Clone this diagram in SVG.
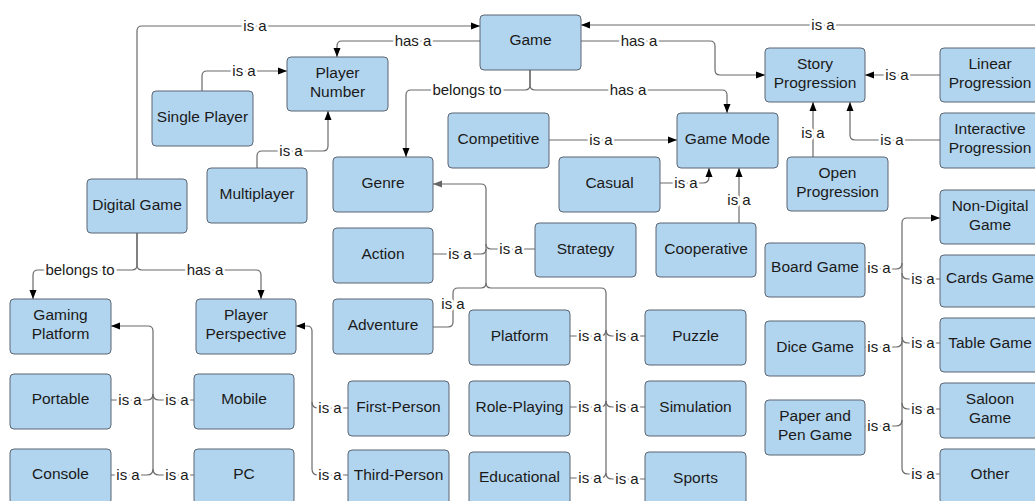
<svg xmlns="http://www.w3.org/2000/svg" width="1035" height="501" viewBox="0 0 1035 501">
<style>
.n rect{fill:#b2d5ef;stroke:#5b6573;stroke-width:1}
.n text{font-family:"Liberation Sans",Arial,sans-serif;font-size:15.5px;fill:#1a1a1a;text-anchor:middle}
.c path{fill:none;stroke:#6a6a6a;stroke-width:1.2}
.c path.a{marker-end:url(#arr)}
.c path.g{marker-end:url(#arrg)}
.l text{font-family:"Liberation Sans",Arial,sans-serif;font-size:15px;fill:#1a1a1a;text-anchor:middle;paint-order:stroke;stroke:#fff;stroke-width:5px;stroke-linejoin:round}
</style>
<defs>
<marker id="arr" markerWidth="10" markerHeight="10" refX="9" refY="5" orient="auto" markerUnits="userSpaceOnUse"><path d="M0,1.5 L9,5 L0,8.5 z" fill="#000"/></marker>
<marker id="arrg" markerWidth="10" markerHeight="10" refX="9" refY="5" orient="auto" markerUnits="userSpaceOnUse"><path d="M0,1.5 L9,5 L0,8.5 z" fill="#666"/></marker>
</defs>
<rect width="1035" height="501" fill="#fff"/>
<g class="c">
<path class="a" d="M137,179 V31 Q137,26 142,26 H480"/>
<path class="a" d="M480,41 H342 Q337,41 337,46 V57"/>
<path class="a" d="M202,91 V76 Q202,71 207,71 H287"/>
<path class="a" d="M257,168 V156 Q257,151 262,151 H323 Q328,151 328,146 V111"/>
<path class="a" d="M530,70 V85 Q530,90 525,90 H411 Q406,90 406,95 V157"/>
<path class="a" d="M530,70 V85 Q530,90 535,90 H722 Q727,90 727,95 V113"/>
<path class="a" d="M581,41 H710 Q715,41 715,46 V70 Q715,75 720,75 H765"/>
<path class="a" d="M940,75 H865"/>
<path class="a" d="M940,140 H855 Q850,140 850,135 V102"/>
<path class="a" d="M813,157 V102"/>
<path class="a" d="M1040,25 H581"/>
<path class="a" d="M549,140 H677"/>
<path class="a" d="M660,183 H703 Q709,183 709,177 V168"/>
<path class="a" d="M739,223 V168"/>
<path class="g" d="M486,283 V189 Q486,184 481,184 H433"/>
<path d="M433,254 H481 Q486,254 486,249"/>
<path d="M535,249 H491 Q486,249 486,244"/>
<path d="M433,327 H448 Q453,327 453,322 V293 Q453,288 458,288 H481 Q486,288 486,283"/>
<path d="M486,283 Q486,288 491,288 H601 Q606,288 606,293 V472"/>
<path d="M570,336 H600 Q606,336 606,330"/>
<path d="M645,336 H612 Q606,336 606,330"/>
<path d="M570,407 H600 Q606,407 606,401"/>
<path d="M645,407 H612 Q606,407 606,401"/>
<path d="M570,478 H600 Q606,478 606,472"/>
<path d="M645,479 H612 Q606,479 606,473"/>
<path class="a" d="M312,469 V331 Q312,326 307,326 H296"/>
<path d="M348,408 H318 Q312,408 312,402"/>
<path d="M348,475 H318 Q312,475 312,469"/>
<path class="a" d="M153,469 V331 Q153,326 148,326 H111"/>
<path d="M111,400 H147 Q153,400 153,394"/>
<path d="M194,400 H159 Q153,400 153,394"/>
<path d="M111,475 H147 Q153,475 153,469"/>
<path d="M194,475 H159 Q153,475 153,469"/>
<path class="a" d="M137,233 V265 Q137,270 132,270 H38 Q33,270 33,275 V299"/>
<path class="a" d="M137,233 V265 Q137,270 142,270 H256 Q261,270 261,275 V299"/>
<path class="a" d="M902,468 V223 Q902,218 907,218 H940"/>
<path d="M864,269 H896 Q902,269 902,263"/>
<path d="M940,279 H908 Q902,279 902,273"/>
<path d="M864,347 H896 Q902,347 902,341"/>
<path d="M940,343 H908 Q902,343 902,337"/>
<path d="M864,426 H896 Q902,426 902,420"/>
<path d="M940,409 H908 Q902,409 902,403"/>
<path d="M940,474 H908 Q902,474 902,468"/>
</g>
<g class="l">
<text x="255" y="31">is a</text>
<text x="413" y="46">has a</text>
<text x="244" y="76">is a</text>
<text x="291" y="156">is a</text>
<text x="467" y="95">belongs to</text>
<text x="628" y="95">has a</text>
<text x="639" y="46">has a</text>
<text x="897" y="80">is a</text>
<text x="892" y="145">is a</text>
<text x="813" y="138">is a</text>
<text x="823" y="30">is a</text>
<text x="601" y="145">is a</text>
<text x="686" y="188">is a</text>
<text x="739" y="205">is a</text>
<text x="460" y="259">is a</text>
<text x="511" y="254">is a</text>
<text x="453" y="309">is a</text>
<text x="590" y="341">is a</text>
<text x="627" y="341">is a</text>
<text x="590" y="412">is a</text>
<text x="627" y="412">is a</text>
<text x="590" y="483">is a</text>
<text x="627" y="484">is a</text>
<text x="330" y="413">is a</text>
<text x="330" y="480">is a</text>
<text x="130" y="405">is a</text>
<text x="177" y="405">is a</text>
<text x="128" y="480">is a</text>
<text x="177" y="480">is a</text>
<text x="80" y="275">belongs to</text>
<text x="205" y="275">has a</text>
<text x="879" y="273">is a</text>
<text x="923" y="284">is a</text>
<text x="879" y="352">is a</text>
<text x="923" y="348">is a</text>
<text x="879" y="431">is a</text>
<text x="923" y="414">is a</text>
<text x="923" y="479">is a</text>
</g>
<g class="n" id="game"><rect x="480" y="15" width="101" height="55" rx="4"/><text x="530.5" y="45">Game</text></g>
<g class="n" id="player-number"><rect x="287" y="57" width="101" height="54" rx="4"/><text x="337.5" y="78">Player</text><text x="337.5" y="97">Number</text></g>
<g class="n" id="single-player"><rect x="152" y="91" width="101" height="55" rx="4"/><text x="202.5" y="122">Single Player</text></g>
<g class="n" id="multiplayer"><rect x="207" y="168" width="100" height="55" rx="4"/><text x="257" y="199">Multiplayer</text></g>
<g class="n" id="digital-game"><rect x="87" y="179" width="100" height="54" rx="4"/><text x="137" y="209.5">Digital Game</text></g>
<g class="n" id="genre"><rect x="333" y="157" width="100" height="55" rx="4"/><text x="383" y="188">Genre</text></g>
<g class="n" id="competitive"><rect x="448" y="113" width="101" height="55" rx="4"/><text x="498.5" y="144">Competitive</text></g>
<g class="n" id="casual"><rect x="559" y="157" width="101" height="55" rx="4"/><text x="609.5" y="188">Casual</text></g>
<g class="n" id="game-mode"><rect x="677" y="113" width="101" height="55" rx="4"/><text x="727.5" y="144">Game Mode</text></g>
<g class="n" id="cooperative"><rect x="656" y="223" width="100" height="54" rx="4"/><text x="706" y="253.5">Cooperative</text></g>
<g class="n" id="strategy"><rect x="535" y="223" width="101" height="54" rx="4"/><text x="585.5" y="253.5">Strategy</text></g>
<g class="n" id="story-progression"><rect x="765" y="48" width="100" height="54" rx="4"/><text x="815" y="69">Story</text><text x="815" y="88">Progression</text></g>
<g class="n" id="linear-progression"><rect x="940" y="48" width="100" height="54" rx="4"/><text x="990" y="69">Linear</text><text x="990" y="88">Progression</text></g>
<g class="n" id="interactive-progression"><rect x="940" y="113" width="100" height="55" rx="4"/><text x="990" y="134">Interactive</text><text x="990" y="153">Progression</text></g>
<g class="n" id="open-progression"><rect x="787" y="157" width="101" height="54" rx="4"/><text x="837.5" y="178">Open</text><text x="837.5" y="197">Progression</text></g>
<g class="n" id="non-digital-game"><rect x="940" y="190" width="100" height="54" rx="4"/><text x="990" y="211">Non-Digital</text><text x="990" y="230">Game</text></g>
<g class="n" id="board-game"><rect x="765" y="243" width="100" height="54" rx="4"/><text x="815" y="272">Board Game</text></g>
<g class="n" id="cards-game"><rect x="940" y="255" width="100" height="52" rx="4"/><text x="990" y="283">Cards Game</text></g>
<g class="n" id="dice-game"><rect x="765" y="321" width="100" height="55" rx="4"/><text x="815" y="351.5">Dice Game</text></g>
<g class="n" id="table-game"><rect x="940" y="318" width="100" height="54" rx="4"/><text x="990" y="347.5">Table Game</text></g>
<g class="n" id="paper-and-pen-game"><rect x="765" y="400" width="100" height="55" rx="4"/><text x="815" y="421">Paper and</text><text x="815" y="440">Pen Game</text></g>
<g class="n" id="saloon-game"><rect x="940" y="383" width="100" height="55" rx="4"/><text x="990" y="404">Saloon</text><text x="990" y="423">Game</text></g>
<g class="n" id="other"><rect x="940" y="449" width="100" height="55" rx="4"/><text x="990" y="479">Other</text></g>
<g class="n" id="action"><rect x="333" y="228" width="100" height="55" rx="4"/><text x="383" y="258.5">Action</text></g>
<g class="n" id="adventure"><rect x="333" y="299" width="100" height="55" rx="4"/><text x="383" y="329.5">Adventure</text></g>
<g class="n" id="platform"><rect x="469" y="310" width="101" height="55" rx="4"/><text x="519.5" y="340.5">Platform</text></g>
<g class="n" id="role-playing"><rect x="469" y="381" width="101" height="55" rx="4"/><text x="519.5" y="411.5">Role-Playing</text></g>
<g class="n" id="educational"><rect x="469" y="452" width="101" height="55" rx="4"/><text x="519.5" y="482">Educational</text></g>
<g class="n" id="puzzle"><rect x="645" y="310" width="101" height="55" rx="4"/><text x="695.5" y="340.5">Puzzle</text></g>
<g class="n" id="simulation"><rect x="645" y="381" width="101" height="55" rx="4"/><text x="695.5" y="411.5">Simulation</text></g>
<g class="n" id="sports"><rect x="645" y="452" width="101" height="55" rx="4"/><text x="695.5" y="483">Sports</text></g>
<g class="n" id="first-person"><rect x="348" y="381" width="101" height="55" rx="4"/><text x="398.5" y="411.5">First-Person</text></g>
<g class="n" id="third-person"><rect x="348" y="450" width="101" height="55" rx="4"/><text x="398.5" y="479.5">Third-Person</text></g>
<g class="n" id="gaming-platform"><rect x="10" y="299" width="101" height="55" rx="4"/><text x="60.5" y="320">Gaming</text><text x="60.5" y="339">Platform</text></g>
<g class="n" id="player-perspective"><rect x="196" y="299" width="100" height="55" rx="4"/><text x="246" y="320">Player</text><text x="246" y="339">Perspective</text></g>
<g class="n" id="portable"><rect x="10" y="374" width="101" height="55" rx="4"/><text x="60.5" y="404">Portable</text></g>
<g class="n" id="mobile"><rect x="194" y="374" width="100" height="55" rx="4"/><text x="244" y="404">Mobile</text></g>
<g class="n" id="console"><rect x="10" y="449" width="101" height="55" rx="4"/><text x="60.5" y="479">Console</text></g>
<g class="n" id="pc"><rect x="194" y="449" width="100" height="55" rx="4"/><text x="244" y="479">PC</text></g>
</svg>
